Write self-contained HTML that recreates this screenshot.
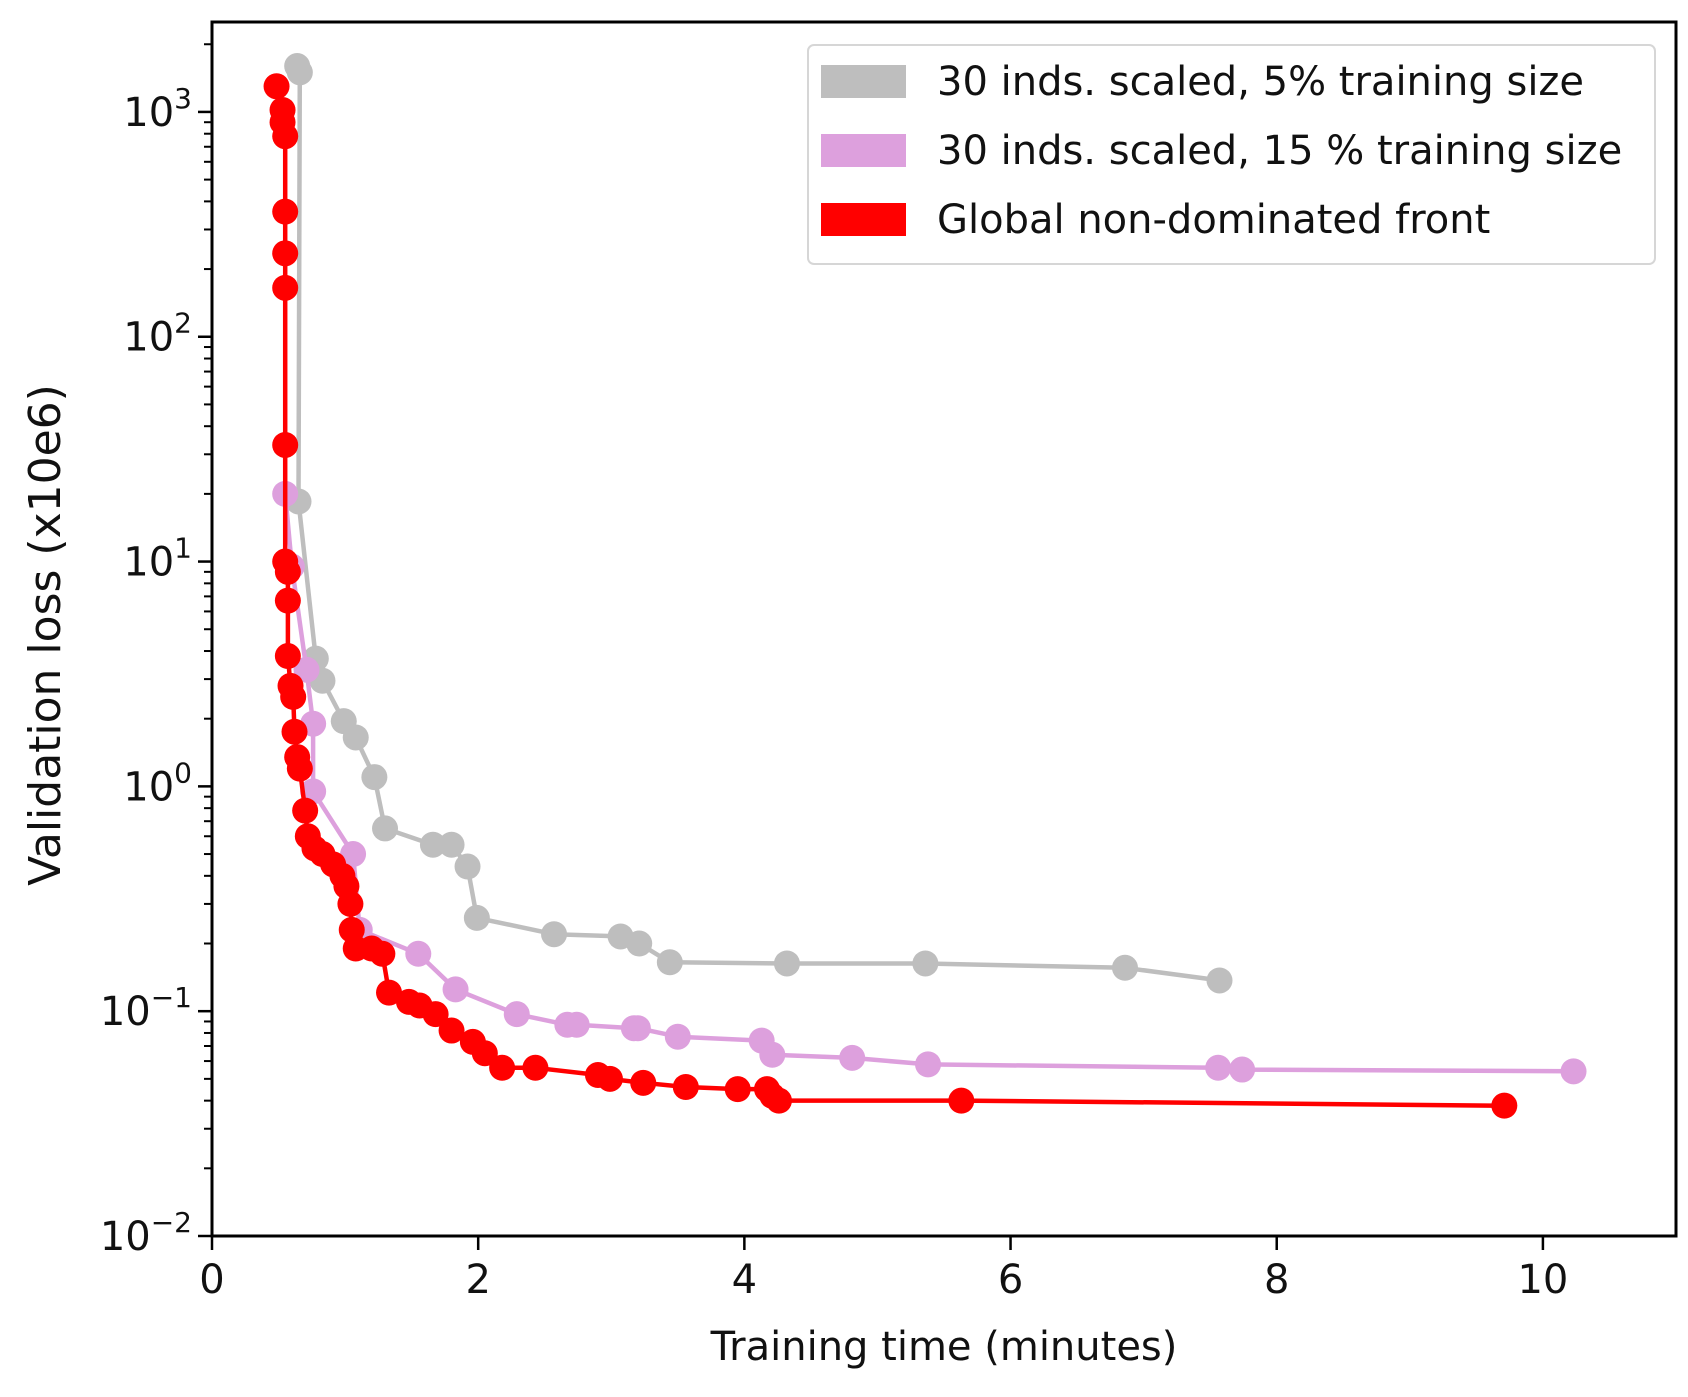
<!DOCTYPE html>
<html><head><meta charset="utf-8"><style>
html,body{margin:0;padding:0;background:#fff;}
svg{display:block;font-family:"DejaVu Sans","Liberation Sans",sans-serif;}
</style></head><body>
<svg id="chart" width="1688" height="1397" viewBox="0 0 1688 1397" xmlns="http://www.w3.org/2000/svg">
<g id="plot"></g>
<g id="axes"></g>
<g id="legend">
  <rect x="808" y="45" width="847" height="219" rx="6" fill="#fff" fill-opacity="0.85" stroke="#d6d6d6" stroke-width="2"/>
  <rect x="821" y="65" width="85" height="33" fill="#bebebe"/>
  <text x="937" y="95" font-size="40" fill="#111">30 inds. scaled, 5% training size</text>
  <rect x="821" y="134" width="85" height="33" fill="#dda0dd"/>
  <text x="937" y="164" font-size="40" fill="#111">30 inds. scaled, 15 % training size</text>
  <rect x="821" y="203" width="85" height="33" fill="#ff0000"/>
  <text x="937" y="233" font-size="40" fill="#111">Global non-dominated front</text>
</g>
</svg>
<script>
const grayX=[0.64,0.66,0.65,0.78,0.83,0.99,1.08,1.22,1.30,1.66,1.80,1.92,1.99,2.57,3.07,3.21,3.44,4.32,5.36,6.86,7.57];
const grayY=[1600,1500,18.5,3.7,2.95,1.95,1.65,1.1,0.65,0.55,0.55,0.44,0.26,0.22,0.215,0.2,0.165,0.163,0.163,0.156,0.137];
const pinkX=[0.55,0.60,0.71,0.76,0.76,1.06,1.11,1.55,1.83,2.29,2.67,2.74,3.17,3.20,3.50,4.13,4.21,4.81,5.38,7.56,7.74,10.23];
const pinkY=[20,9.5,3.3,1.9,0.95,0.5,0.23,0.18,0.125,0.097,0.087,0.087,0.084,0.084,0.077,0.074,0.064,0.062,0.058,0.056,0.055,0.054];
const redX=[0.485,0.53,0.53,0.55,0.55,0.55,0.55,0.55,0.55,0.57,0.57,0.57,0.59,0.61,0.62,0.64,0.66,0.70,0.72,0.77,0.83,0.91,0.98,1.01,1.04,1.05,1.08,1.20,1.28,1.33,1.48,1.56,1.68,1.80,1.96,2.05,2.18,2.43,2.90,2.99,3.24,3.56,3.95,4.17,4.21,4.26,5.63,9.71];
const redY=[1300,1020,900,780,360,235,165,33,10,9,6.7,3.8,2.8,2.5,1.75,1.35,1.2,0.78,0.6,0.53,0.5,0.45,0.4,0.36,0.3,0.23,0.19,0.19,0.18,0.121,0.11,0.106,0.097,0.082,0.073,0.065,0.056,0.056,0.052,0.05,0.048,0.046,0.045,0.045,0.042,0.04,0.04,0.038];
const xTicks=[0,2,4,6,8,10];
const yExps=[-2,-1,0,1,2,3];

const L=212,R=1676,T=22,B=1236,XMAX=11,YMIN=-2,YMAX=3.4;
const sx=v=>L+(v/XMAX)*(R-L);
const sy=v=>B-(Math.log10(v)-YMIN)/(YMAX-YMIN)*(B-T);
const NS="http://www.w3.org/2000/svg";
const plot=document.getElementById('plot'),axes=document.getElementById('axes');
function mk(tag,attrs,parent){const e=document.createElementNS(NS,tag);for(const k in attrs)e.setAttribute(k,attrs[k]);parent.appendChild(e);return e;}

function series(xs,ys,color,name){
  const g=mk('g',{},plot);
  
  
  const pts=xs.map((x,i)=>sx(x).toFixed(1)+','+sy(ys[i]).toFixed(1)).join(' ');
  const pl=mk('polyline',{points:pts,fill:'none',stroke:color,'stroke-width':4.5,'stroke-linejoin':'round'},g);
  
  
  xs.forEach((x,i)=>{
    const c=mk('circle',{cx:sx(x),cy:sy(ys[i]),r:13,fill:color},g);
    
    
  });
}
series(grayX,grayY,'#bebebe','gray-5pct');
series(pinkX,pinkY,'#dda0dd','pink-15pct');
series(redX,redY,'#ff0000','red-global-front');

const frame=mk('rect',{x:L,y:T,width:R-L,height:B-T,fill:'none',stroke:'#000','stroke-width':3},axes);


xTicks.forEach(v=>{
  const x=sx(v);
  const t=mk('line',{x1:x,x2:x,y1:B,y2:B+14,stroke:'#000','stroke-width':2.5},axes);
  
  
  const lb=mk('text',{x:x,y:B+57,'font-size':40,'text-anchor':'middle',fill:'#111'},axes);
  lb.textContent=v;
  
  
});
yExps.forEach(e=>{
  const y=sy(Math.pow(10,e));
  const t=mk('line',{x1:L-14,x2:L,y1:y,y2:y,stroke:'#000','stroke-width':2.5},axes);
  
  
  const lb=mk('text',{x:L-20,y:y+14,'font-size':40,'text-anchor':'end',fill:'#111'},axes);
  
  
  const a=mk('tspan',{},lb);a.textContent='10';
  const b=mk('tspan',{dy:-18,'font-size':28},lb);b.textContent=(e<0?'\u2212':'')+Math.abs(e);
  for(let m=2;m<=9;m++){
    const v=m*Math.pow(10,e);
    if(Math.log10(v)>YMAX)break;
    const yy=sy(v);
    const mt=mk('line',{x1:L-8,x2:L,y1:yy,y2:yy,stroke:'#000','stroke-width':2},axes);
    
    
  }
});
const xl=mk('text',{x:(L+R)/2,y:1360,'font-size':40,'text-anchor':'middle',fill:'#111'},axes);
xl.textContent='Training time (minutes)';


const yl=mk('text',{x:0,y:0,'font-size':44,'text-anchor':'middle',fill:'#111',transform:'translate(60,635) rotate(-90)'},axes);
yl.textContent='Validation loss (x10e6)';


</script>
</body></html>
